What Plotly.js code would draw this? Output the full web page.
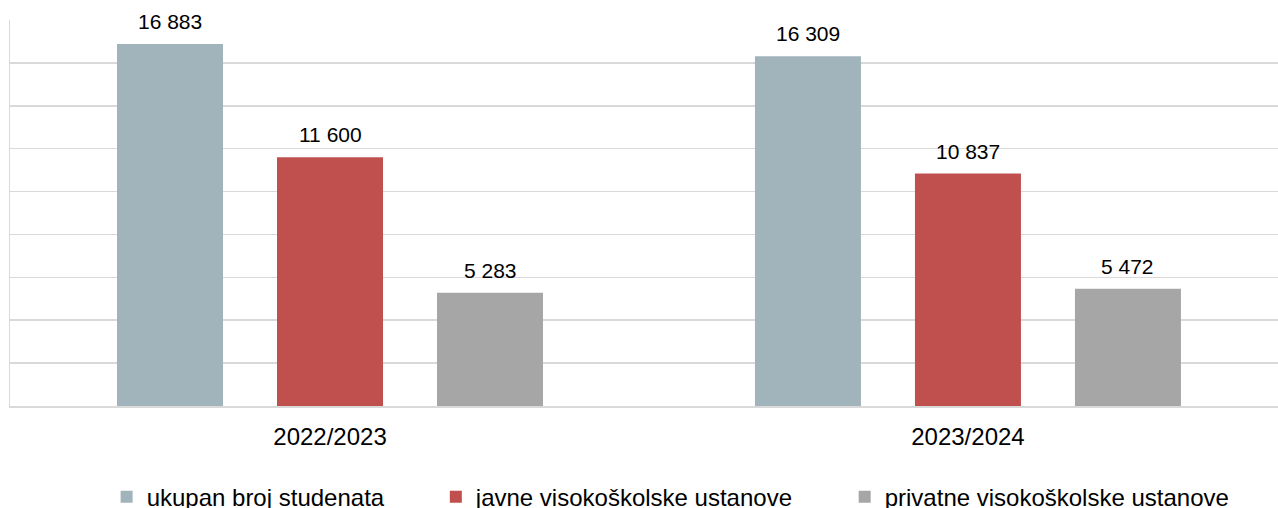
<!DOCTYPE html>
<html>
<head>
<meta charset="utf-8">
<script src="https://cdn.plot.ly/plotly-3.0.1.min.js"></script>
<style>html,body{margin:0;padding:0;background:#fff;overflow:hidden}#chart{width:1278px;height:508px}</style>
</head>
<body>
<div id="chart"></div>
<script>
const categories = ["2022/2023", "2023/2024"];
const seriesNames = ["ukupan broj studenata", "javne visokoškolske ustanove", "privatne visokoškolske ustanove"];
const totalStudents = [16883, 16309];
const publicInstitutions = [11600, 10837];
const privateInstitutions = [5283, 5472];
const seriesColors = ["#A2B4BB", "#C0504D", "#A6A6A6"];

const seriesValues = [totalStudents, publicInstitutions, privateInstitutions];
const FONT = "Liberation Sans, Arial, sans-serif";
const bargap = 0.2476;
const slot = (1 - bargap) / seriesValues.length;

function fmt(v) { return String(v).replace(/\B(?=(\d{3})+(?!\d))/g, " "); }

const pad = "\u00A0".repeat(7);
const traces = seriesValues.map((vals, j) => ({
  type: "bar",
  x: categories,
  y: vals,
  name: seriesNames[j] + (j < seriesValues.length - 1 ? pad : ""),
  marker: { color: seriesColors[j] },
  hoverinfo: "skip"
}));

const annotations = [];
seriesValues.forEach((vals, j) => {
  vals.forEach((v, i) => {
    annotations.push({
      x: i + (j - (seriesValues.length - 1) / 2) * slot,
      y: v,
      xref: "x", yref: "y",
      text: fmt(v),
      showarrow: false,
      yanchor: "bottom",
      yshift: 9,
      font: { family: FONT, size: 21, color: "#000" }
    });
  });
});

const layout = {
  width: 1278, height: 508,
  margin: { l: 10, r: 0, t: 20, b: 102, autoexpand: false },
  paper_bgcolor: "#fff", plot_bgcolor: "#fff",
  barmode: "group",
  bargap: bargap,
  bargroupgap: 0.3375,
  font: { family: FONT, size: 24, color: "#000" },
  xaxis: {
    type: "category",
    range: [-0.5016, 1.486],
    showgrid: false,
    showline: true, linecolor: "#D9D9D9", linewidth: 2,
    ticks: "", tickfont: { family: FONT, size: 24, color: "#000" },
    ticklabelstandoff: 8,
    fixedrange: true
  },
  yaxis: {
    range: [0, 18000],
    dtick: 2000,
    showgrid: true, gridcolor: "#D9D9D9", gridwidth: 1.5,
    showline: true, linecolor: "#D9D9D9", linewidth: 1.5,
    showticklabels: false, zeroline: false, ticks: "",
    fixedrange: true
  },
  showlegend: true,
  legend: {
    orientation: "h",
    x: 0.521, xanchor: "center",
    y: -0.178, yanchor: "top",
    font: { family: FONT, size: 24, color: "#000" },
    itemwidth: 30,
    traceorder: "normal"
  },
  annotations: annotations
};

Plotly.newPlot("chart", traces, layout, { displayModeBar: false, staticPlot: true });
</script>
</body>
</html>
